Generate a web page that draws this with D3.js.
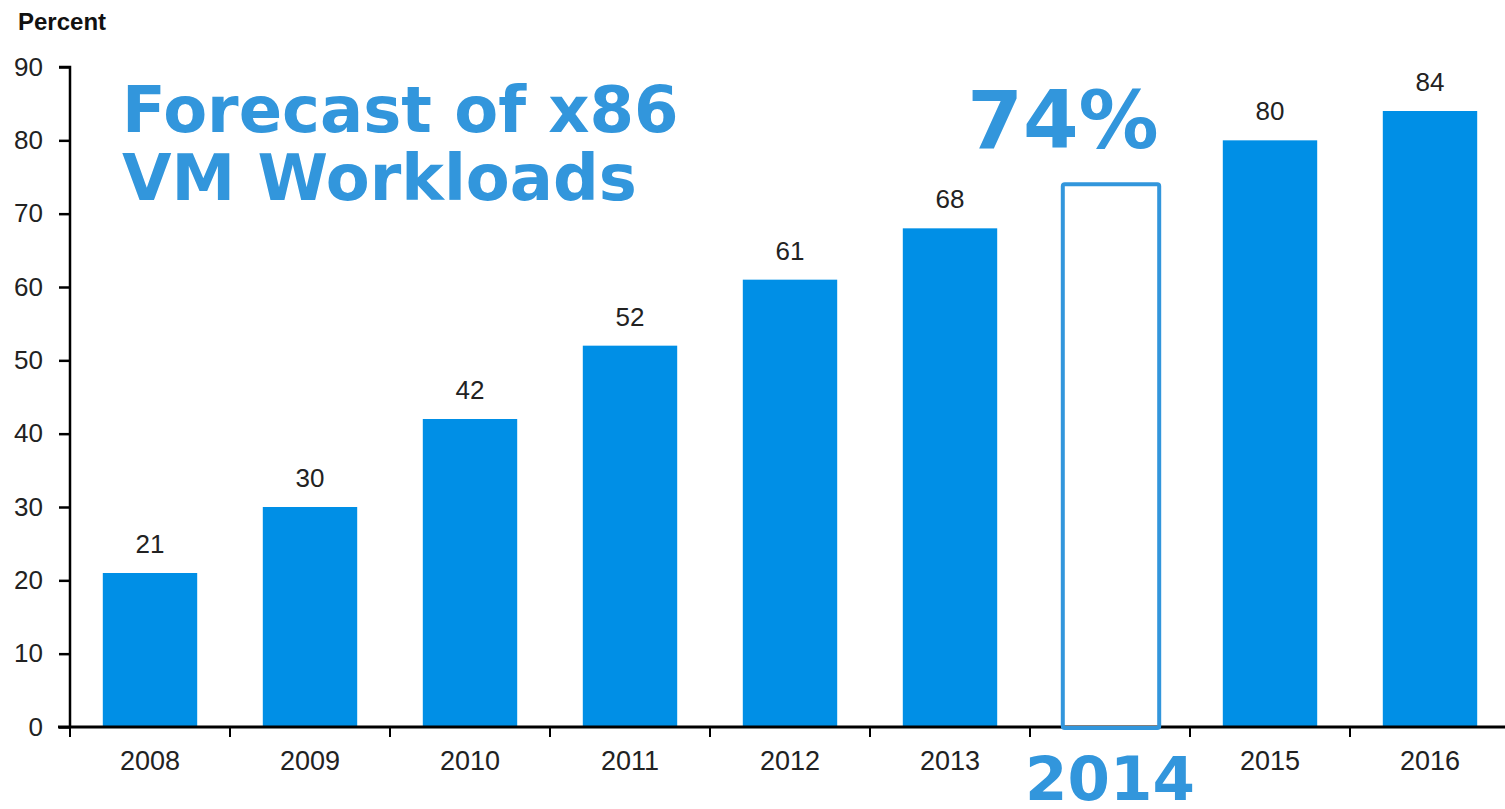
<!DOCTYPE html>
<html>
<head>
<meta charset="utf-8">
<script src="https://cdn.jsdelivr.net/npm/d3@7"></script>
<style>
  body { margin: 0; background: #fff; }
  svg { display: block; }
</style>
</head>
<body>
<svg id="chart" width="1505" height="809"></svg>
<script>
// data
var years = ["2008", "2009", "2010", "2011", "2012", "2013", "2014", "2015", "2016"];
var percent = [21, 30, 42, 52, 61, 68, 74, 80, 84];
var forecastYear = "2014";
var yTicks = [0, 10, 20, 30, 40, 50, 60, 70, 80, 90];
var titleLines = ["Forecast of x86", "VM Workloads"];

var svg = d3.select("#chart");
var plotLeft = 70, plotRight = 1510, plotTop = 67, plotBottom = 727;

var x = d3.scaleBand().domain(years).range([plotLeft, plotRight]).paddingInner(0.41).paddingOuter(0.205);
var xTicks = d3.scaleBand().domain(years).range([plotLeft, plotRight]);
var y = d3.scaleLinear().domain([0, 90]).range([plotBottom, plotTop]);

var barColor = "#008fe6";
var hiColor = "#3296dc";
var labelFont = "Liberation Sans, Arial, sans-serif";

var rows = years.map(function(d, i) { return {year: d, value: percent[i]}; });
var solid = rows.filter(function(d) { return d.year !== forecastYear; });

// bars
svg.selectAll("rect.bar")
  .data(solid)
  .enter().append("rect")
  .attr("class", "bar")
  .attr("x", function(d) { return x(d.year); })
  .attr("width", x.bandwidth())
  .attr("y", function(d) { return y(d.value); })
  .attr("height", function(d) { return y(0) - y(d.value); })
  .attr("fill", barColor);

// value labels
svg.selectAll("text.val")
  .data(solid)
  .enter().append("text")
  .attr("class", "val")
  .attr("x", function(d) { return x(d.year) + x.bandwidth() / 2; })
  .attr("y", function(d) { return y(d.value) - 20; })
  .attr("text-anchor", "middle")
  .attr("font-family", labelFont)
  .attr("font-size", 26)
  .attr("fill", "#222")
  .text(function(d) { return d.value; });

// y axis
var yAxis = svg.append("g")
  .attr("transform", "translate(" + plotLeft + ",0)")
  .call(d3.axisLeft(y).tickValues(yTicks).tickSize(11).tickPadding(16));
yAxis.select(".domain").attr("stroke", "#000").attr("stroke-width", 2.5).attr("d", "M-11," + y(90) + "H0V" + y(0));
yAxis.selectAll(".tick line").attr("stroke", "#000").attr("stroke-width", 2.5);
yAxis.selectAll(".tick text")
  .attr("font-family", labelFont)
  .attr("font-size", 26)
  .attr("fill", "#222");

// x axis
var xAxis = svg.append("g")
  .attr("transform", "translate(0," + plotBottom + ")")
  .call(d3.axisBottom(x).tickSize(0).tickPadding(24));
xAxis.select(".domain").attr("stroke", "#000").attr("stroke-width", 3).attr("d", "M" + (plotLeft - 12) + ",0H1505");
xAxis.selectAll(".tick text")
  .attr("font-family", labelFont)
  .attr("font-size", 27)
  .attr("fill", "#222")
  .style("display", function(d) { return d === forecastYear ? "none" : null; });

// tick marks between categories
var bounds = years.map(function(d) { return xTicks(d); }).concat([plotRight]);
svg.selectAll("line.xt")
  .data(bounds.filter(function(b) { return b < 1505; }))
  .enter().append("line")
  .attr("class", "xt")
  .attr("x1", function(d) { return d; }).attr("x2", function(d) { return d; })
  .attr("y1", plotBottom).attr("y2", plotBottom + 10)
  .attr("stroke", "#000").attr("stroke-width", 2);

// forecast bar: outline only, drawn over the axis
var fv = percent[years.indexOf(forecastYear)];
svg.append("rect")
  .attr("x", x(forecastYear))
  .attr("width", x.bandwidth() + 2)
  .attr("y", y(fv))
  .attr("height", y(0) - y(fv) + 1)
  .attr("rx", 2)
  .attr("fill", "none")
  .attr("stroke", hiColor)
  .attr("stroke-width", 4);

// "Percent"
svg.append("text")
  .attr("x", 18).attr("y", 30)
  .attr("font-family", labelFont)
  .attr("font-weight", "bold")
  .attr("font-size", 24)
  .attr("fill", "#111")
  .text("Percent");

// big title
svg.selectAll("text.title")
  .data(titleLines)
  .enter().append("text")
  .attr("class", "title")
  .attr("x", 122)
  .attr("y", function(d, i) { return 132 + i * 68; })
  .attr("font-family", "DejaVu Sans, Verdana, sans-serif")
  .attr("font-weight", "bold")
  .attr("font-size", 64)
  .attr("fill", hiColor)
  .text(function(d) { return d; });

// forecast callouts
svg.append("text")
  .attr("x", x(forecastYear) + x.bandwidth() / 2 - 47)
  .attr("y", 148)
  .attr("text-anchor", "middle")
  .attr("font-family", "DejaVu Sans, Verdana, sans-serif")
  .attr("font-weight", "bold")
  .attr("font-size", 80)
  .attr("fill", hiColor)
  .text(fv + "%");

svg.append("text")
  .attr("x", x(forecastYear) + x.bandwidth() / 2)
  .attr("y", 800)
  .attr("text-anchor", "middle")
  .attr("font-family", "DejaVu Sans, Verdana, sans-serif")
  .attr("font-weight", "bold")
  .attr("font-size", 61)
  .attr("fill", hiColor)
  .text(forecastYear);
</script>
</body>
</html>
